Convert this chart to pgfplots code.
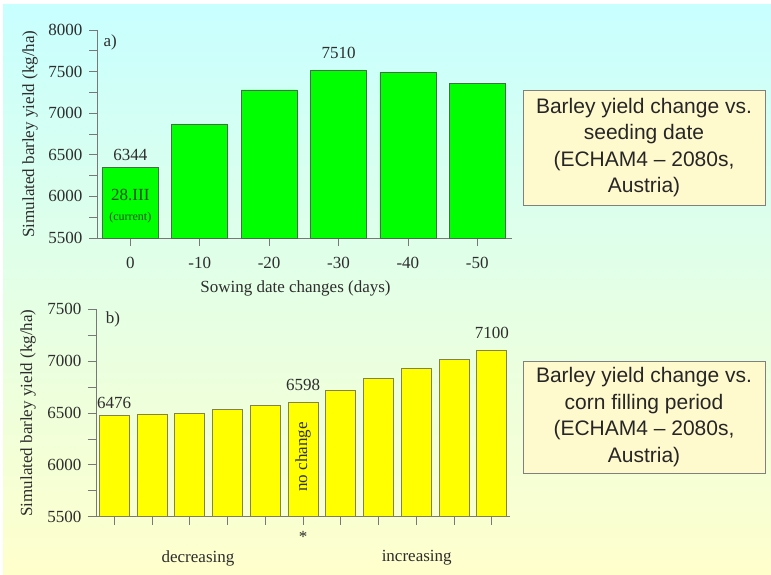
\documentclass[border=0pt]{standalone}
\usepackage{pgfplots}
\pgfplotsset{compat=1.18}
\usepackage{fontspec}
\setmainfont{Liberation Serif}
\newfontfamily\arial{Liberation Sans}
\definecolor{bgtop}{RGB}{200,255,255}
\definecolor{bgmid}{RGB}{240,252,238}
\definecolor{bgbot}{RGB}{255,255,204}
\definecolor{axgray}{RGB}{120,120,120}
\definecolor{txtgray}{RGB}{45,45,45}
\definecolor{barg}{RGB}{0,255,0}
\definecolor{bargedge}{RGB}{70,110,70}
\definecolor{bary}{RGB}{255,255,0}
\definecolor{baryedge}{RGB}{130,130,80}
\definecolor{boxfill}{RGB}{255,250,205}
\definecolor{darkgr}{RGB}{20,80,20}
\begin{document}
\begin{tikzpicture}[x=1pt,y=1pt]
\useasboundingbox (0,0) rectangle (771,574);
\fill[white] (0,0) rectangle (771,574);
\shade[top color=bgtop, middle color=bgmid, bottom color=bgbot] (3,0) rectangle (771,569);
\pgfplotsset{
  myax/.style={
    scale only axis, anchor=south west,
    axis x line*=bottom, axis y line*=left,
    axis line style={axgray, line width=1pt},
    tick style={axgray, line width=0.8pt},
    tick align=outside,
    major tick length=8pt, minor tick length=8pt,
    minor y tick num=1,
    tick label style={font=\fontsize{17}{20}\selectfont, text=txtgray},
    xticklabel style={yshift=-8pt},
    yticklabel style={xshift=-3pt},
    /pgf/number format/assume math mode=true,
    /pgf/number format/1000 sep={},
    ybar, clip mode=individual,
  }
}
% ---------- top axis ----------
\begin{axis}[myax,
  at={(97pt,336pt)}, width=415pt, height=208pt,
  xmin=-0.48, xmax=5.5, ymin=5500, ymax=8000,
  bar width=56pt,
  ytick={5500,6000,6500,7000,7500,8000},
  xtick={0,1,2,3,4,5},
  xticklabels={0,-10,-20,-30,-40,-50},
  ylabel={Simulated barley yield (kg/ha)},
  every axis y label/.style={at={(axis description cs:-0.161,0.5)},rotate=90,anchor=center,
    font=\fontsize{17}{20}\selectfont, text=txtgray},
]
\addplot[fill=barg, draw=bargedge, line width=0.8pt] coordinates {
(0,6344) (1,6870) (2,7280) (3,7510) (4,7490) (5,7360)};
\node[font=\fontsize{17}{20}\selectfont, text=txtgray] at (axis cs:-0.29,7856) {a)};
\node[font=\fontsize{17}{20}\selectfont, text=txtgray] at (axis cs:0,6498) {6344};
\node[font=\fontsize{17}{20}\selectfont, text=txtgray] at (axis cs:3,7724) {7510};
\node[font=\fontsize{17}{20}\selectfont, text=darkgr] at (axis cs:0,6017) {28.III};
\node[font=\fontsize{12}{14}\selectfont, text=darkgr] at (axis cs:0,5740) {(current)};
\node[font=\fontsize{17}{20}\selectfont, text=txtgray] at (axis cs:2.38,4899) {Sowing date changes (days)};
\end{axis}
% ---------- bottom axis ----------
\begin{axis}[myax,
  at={(96pt,57.3pt)}, width=414pt, height=207.4pt,
  xmin=-0.48, xmax=10.48, ymin=5500, ymax=7500,
  bar width=30pt,
  ytick={5500,6000,6500,7000,7500},
  xtick={0,1,...,10},
  xticklabels={},
  ylabel={Simulated barley yield (kg/ha)},
  every axis y label/.style={at={(axis description cs:-0.164,0.5)},rotate=90,anchor=center,
    font=\fontsize{17}{20}\selectfont, text=txtgray},
]
\addplot[fill=bary, draw=baryedge, line width=0.8pt] coordinates {
(0,6476) (1,6490) (2,6500) (3,6535) (4,6570) (5,6598) (6,6720) (7,6835) (8,6930) (9,7020) (10,7100)};
\node[font=\fontsize{17}{20}\selectfont, text=txtgray] at (axis cs:-0.03,7406) {b)};
\node[font=\fontsize{17}{20}\selectfont, text=txtgray] at (axis cs:0,6596) {6476};
\node[font=\fontsize{17}{20}\selectfont, text=txtgray] at (axis cs:5,6770) {6598};
\node[font=\fontsize{17}{20}\selectfont, text=txtgray] at (axis cs:10,7271) {7100};
\node[font=\fontsize{17}{20}\selectfont, text=black!80, rotate=90] at (axis cs:5,6076) {no change};
\node[font=\fontsize{17}{20}\selectfont, text=txtgray] at (axis cs:5,5304) {*};
\node[font=\fontsize{17}{20}\selectfont, text=txtgray] at (axis cs:2.22,5102) {decreasing};
\node[font=\fontsize{17}{20}\selectfont, text=txtgray] at (axis cs:8.01,5102) {increasing};
\end{axis}
% ---------- text boxes ----------
\node[draw=gray, line width=0.8pt, fill=boxfill, minimum width=242pt, minimum height=115pt, align=center,
  font=\arial\fontsize{21}{26.5}\selectfont, text=black!85] at (644,426.5)
  {Barley yield change vs.\\seeding date\\(ECHAM4 – 2080s,\\Austria)};
\node[draw=gray, line width=0.8pt, fill=boxfill, minimum width=242pt, minimum height=112pt, align=center,
  font=\arial\fontsize{21}{26.5}\selectfont, text=black!85] at (644,157)
  {Barley yield change vs.\\corn filling period\\(ECHAM4 – 2080s,\\Austria)};
\end{tikzpicture}
\end{document}
